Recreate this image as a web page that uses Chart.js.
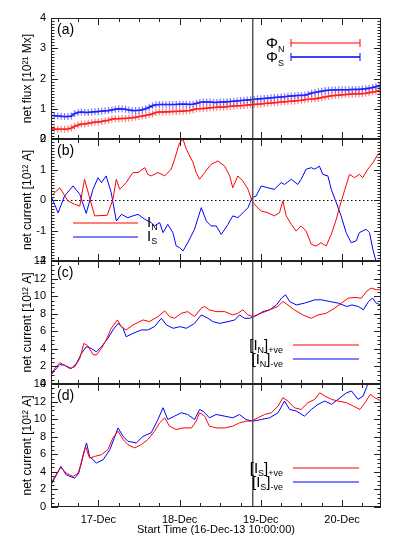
<!DOCTYPE html>
<html>
<head>
<meta charset="utf-8">
<script src="https://cdn.jsdelivr.net/npm/chart.js@4.4.0/dist/chart.umd.min.js"></script>
<style>
body { margin: 0; background: #fff; }
#wrap { position: relative; width: 399px; height: 544px; }
canvas { position: absolute; left: 0; }
</style>
</head>
<body>
<div id="wrap">
<canvas id="panelA" width="399" height="152" style="top:0px"></canvas>
<canvas id="panelB" width="399" height="147" style="top:127px"></canvas>
<canvas id="panelC" width="399" height="148" style="top:249px"></canvas>
<canvas id="panelD" width="399" height="172" style="top:372px"></canvas>
</div>
<script>
const FONT = '"Liberation Sans", Arial, Helvetica, sans-serif';

// x axis: hours since 16-Dec-13 10:00
const dayTicks = [14, 38, 62, 86];
const dayLabels = ['17-Dec', '18-Dec', '19-Dec', '20-Dec'];
const markHour = 59.6;
const xTitle = 'Start Time (16-Dec-13 10:00:00)';

// (a) net flux, hourly
const fluxN = [0.33, 0.33, 0.32, 0.32, 0.32, 0.33, 0.36, 0.42, 0.46, 0.50,
  0.50, 0.52, 0.54, 0.56, 0.56, 0.58, 0.60, 0.62, 0.66, 0.67, 0.67, 0.68, 0.68, 0.69, 0.70,
  0.72, 0.74, 0.76, 0.78, 0.80, 0.83, 0.88, 0.89, 0.89, 0.90, 0.90, 0.91, 0.91, 0.92, 0.92, 0.93, 0.94,
  0.97, 1.00, 1.00, 1.01, 1.02, 1.03, 1.04, 1.05, 1.06, 1.06, 1.07, 1.08, 1.09, 1.10, 1.10, 1.11, 1.12, 1.13, 1.14,
  1.15, 1.16, 1.17, 1.18, 1.19, 1.20, 1.21, 1.22, 1.23, 1.24, 1.25, 1.26, 1.27, 1.28, 1.30, 1.31, 1.32, 1.33, 1.35, 1.37,
  1.39, 1.41, 1.43, 1.44, 1.45, 1.46, 1.47, 1.48, 1.49, 1.49, 1.50, 1.50, 1.51, 1.53, 1.55, 1.57, 1.60];
const fluxS = [0.78, 0.77, 0.76, 0.75, 0.74, 0.74, 0.76, 0.84, 0.88, 0.89, 0.88, 0.88, 0.89,
  0.90, 0.91, 0.92, 0.93, 0.94, 0.96, 0.98, 1.00, 0.99, 0.98, 0.96, 0.94, 0.94, 0.95, 0.97, 1.00,
  1.05, 1.10, 1.13, 1.14, 1.14, 1.14, 1.14, 1.14, 1.14, 1.15, 1.15, 1.15, 1.14, 1.15, 1.18,
  1.21, 1.22, 1.22, 1.22, 1.21, 1.21, 1.22, 1.22, 1.23, 1.24, 1.25, 1.26, 1.27, 1.28, 1.29, 1.30, 1.31,
  1.32, 1.33, 1.34, 1.35, 1.36, 1.37, 1.38, 1.39, 1.40, 1.41, 1.42, 1.43, 1.44, 1.44, 1.45, 1.48, 1.52,
  1.54, 1.56, 1.58, 1.60, 1.61, 1.62, 1.62, 1.63, 1.63, 1.63, 1.63, 1.64, 1.64, 1.64, 1.65, 1.66, 1.68, 1.70, 1.73, 1.76];

// (b) net current I_N, I_S
const hoursBN = [0, 2.6, 5, 7, 8.5, 9.9, 12.9, 16.6, 18.3, 19.3, 20.3, 21.3, 22.2, 24.2, 25.7, 27.7, 28.6, 29.6, 31.6, 33.6,
  35.5, 36.5, 38, 39, 40, 41, 42, 42.9, 43.9, 45.4, 47.3, 49.3, 51.3, 52.8, 53.7, 55.2, 56.7, 58.2, 59.4, 60.6,
  62.1, 64.1, 66, 67.5, 68.5, 69.5, 71, 72.4, 73.9, 75.4, 76.9, 78.3, 79.8, 81.3, 82.8, 84.3, 85.2, 86.7, 88.2, 89.7,
  91.1, 92.1, 93.6, 95.1, 96.6, 97.5];
const currentBN = [0.13, 0.40, -0.03, -0.14, -0.20, 0.68, -0.52, -0.50, 0.02, 0.68, 0.35, 0.46, 0.57, 0.90, 0.90, 1.06, 0.84, 0.79, 0.90, 0.79,
  1.01, 1.33, 1.88, 1.99, 1.66, 1.44, 1.22, 0.90, 0.68, 0.90, 1.17, 1.28, 1.11, 0.79, 0.40, 0.79, 0.62, 0.35, -0.03, -0.20,
  -0.36, -0.42, -0.52, -0.42, -0.03, -0.52, -0.80, -1.02, -0.85, -1.02, -1.45, -1.51, -1.40, -1.51, -1.13, -0.63, -0.25, 0.30, 0.84, 0.73,
  0.84, 0.73, 1.01, 1.22, 1.50, 1.55];
const hoursBS = [0, 2.1, 4, 6.5, 8.5, 10.4, 12.4, 13.9, 14.9, 16.3, 17.8, 19.3, 20.8, 22.7, 24.2, 25.7, 27.7, 29.6, 30.6, 32.1,
  33.1, 34.5, 36, 37, 38, 39, 40.4, 42.4, 44.4, 45.9, 47.3, 48.8, 50.3, 52.3, 53.7, 55.2, 56.7, 58.2, 59.4, 60.6,
  62.1, 64.1, 66, 68, 69, 71, 72.9, 73.9, 75.4, 76.9, 77.9, 79.3, 80.3, 81.8, 82.8, 84.3, 85.7, 87.2, 88.7, 90.2,
  91.1, 93.1, 94.1, 95.1, 96, 97];
const currentBS = [0.13, -0.42, 0.13, 0.46, 0.19, -0.44, 0.35, 0.73, 0.57, 0.79, 0.24, -0.69, -0.47, -0.58, -0.52, -0.47, -0.63, -0.74, -0.85, -0.74,
  -1.07, -0.80, -1.07, -1.51, -1.56, -1.67, -1.40, -0.96, -0.25, -0.69, -0.85, -0.85, -1.13, -0.80, -0.52, -0.58, -0.42, -0.25, 0.08, 0.13,
  0.46, 0.40, 0.35, 0.57, 0.51, 0.68, 0.51, 0.68, 1.01, 1.06, 1.01, 1.11, 0.84, 0.79, 0.35, -0.09, -0.52, -1.07, -1.40, -1.34,
  -1.07, -0.96, -1.07, -1.62, -2.0, -2.27];

// (c) [I_N]+ve, [I_N]-ve
const hoursCP = [0, 1.1, 2.6, 4, 5.5, 7, 8.5, 9.7, 10.9, 12.4, 13.4, 14.9, 16.3, 17.8, 19.6, 20.8, 22.2, 24.2, 27.2, 29.1,
  31.6, 33.6, 35, 36.5, 38.5, 40.4, 42.4, 44.4, 45.4, 46.8, 48.8, 51.3, 53.7, 55.2, 56.7, 58.2, 59.6, 62.1, 64.6, 67,
  68.5, 70, 71.9, 74.4, 76.9, 78.9, 81.3, 83.8, 85.8, 87.8, 89.8, 91.7, 93.2, 94.6, 96.1, 97.5];
const currentCP = [1.0, 1.76, 2.44, 2.14, 1.76, 1.95, 2.9, 4.62, 4.35, 3.36, 3.28, 4.05, 5.0, 6.34, 7.29, 6.53, 6.15, 6.72, 7.29, 7.1,
  7.67, 8.32, 7.67, 7.48, 8.05, 8.24, 7.67, 8.63, 8.82, 8.44, 8.24, 8.24, 7.86, 8.05, 8.44, 7.86, 7.67, 8.05, 8.44, 8.82,
  9.39, 9.0, 8.44, 7.86, 7.48, 7.86, 8.05, 8.63, 9.2, 9.77, 9.85, 9.77, 10.53, 10.92, 10.73, 10.73];
const hoursCM = [0, 1.1, 2.6, 4, 6, 7.5, 9, 10.4, 11.9, 13.4, 14.9, 16.8, 18.3, 19.8, 21.3, 22.2, 24.2, 26.7, 28.6, 30.6,
  32.6, 34.1, 36.1, 38.1, 40, 42.4, 44.4, 46.4, 47.8, 49.8, 52.3, 54.3, 55.7, 57.2, 58.7, 60.1, 62.6, 64.6, 66.6, 68.1,
  69.3, 70.5, 72.5, 74.9, 77.9, 79.9, 82.4, 84.9, 87.4, 88.9, 90.8, 92.3, 93.8, 95, 96.1, 97.5];
const currentCM = [1.0, 1.56, 2.21, 2.14, 1.76, 2.33, 3.47, 4.24, 4.05, 3.66, 4.24, 5.19, 6.15, 6.9, 6.34, 5.38, 5.76, 6.15, 6.15, 6.53,
  7.48, 6.72, 6.34, 6.53, 6.34, 6.9, 7.86, 7.48, 7.1, 6.9, 7.1, 7.29, 7.86, 7.48, 7.48, 7.67, 8.24, 8.44, 9.0, 9.77,
  10.15, 9.39, 9.0, 9.2, 9.58, 9.58, 9.39, 9.2, 8.82, 9.0, 8.82, 8.44, 9.39, 9.77, 9.2, 9.0];

// (d) [I_S]+ve, [I_S]-ve
const hoursDP = [0, 1.1, 2.9, 4.5, 6.5, 8, 9, 10.2, 11.4, 12.9, 14.9, 16.8, 18.3, 19.8, 21.3, 22.7, 24.7, 26.7, 28.6, 30.6,
  32.1, 33.6, 35, 37, 39, 41.5, 42.9, 43.9, 45.4, 46.8, 48.8, 51.3, 53.7, 55.7, 57.6, 59.1, 61.1, 63.1, 65.1, 67.1,
  68.5, 70, 71.9, 73.9, 75.9, 77.9, 79.4, 80.9, 82.9, 84.8, 87.3, 89.3, 91.3, 92.8, 94.3, 95.7, 97.5];
const currentDP = [2.7, 3.47, 4.5, 3.86, 3.47, 3.86, 5.0, 6.9, 5.57, 5.76, 5.95, 6.53, 7.86, 8.63, 7.67, 7.1, 6.72, 7.1, 7.67, 8.63,
  9.58, 10.15, 9.2, 8.82, 9.0, 9.0, 9.77, 10.73, 10.34, 9.2, 9.0, 9.0, 9.2, 9.58, 9.77, 9.77, 10.15, 10.53, 10.73, 11.49,
  12.44, 12.06, 11.3, 11.1, 11.87, 12.25, 13.0, 12.63, 12.25, 12.06, 11.87, 11.49, 11.1, 11.87, 12.82, 12.44, 12.06];
const hoursDM = [0, 1.1, 2.9, 4.5, 7, 8.2, 9.5, 10.5, 11.4, 13.4, 15.4, 17.4, 18.9, 19.8, 21.3, 22.7, 25.2, 27.2, 29.6, 31.6,
  33.1, 34.5, 36.5, 38.5, 40.4, 42.4, 43.9, 44.9, 46.8, 48.8, 51.3, 53.7, 55.7, 57.6, 59.6, 62.1, 64.6, 67.1, 69, 70.5,
  72.5, 74.9, 76.9, 78.9, 80.9, 82.9, 84.8, 87.3, 88.8, 90.7, 92.2, 93.2, 94.1, 95.1];
const currentDM = [2.52, 3.28, 4.62, 3.66, 3.28, 3.86, 5.95, 7.29, 5.76, 5.0, 5.38, 6.53, 8.05, 9.0, 8.05, 7.48, 7.29, 8.05, 8.44, 9.96,
  11.3, 9.96, 10.34, 10.73, 10.53, 9.96, 11.1, 10.92, 10.15, 10.53, 10.34, 10.15, 10.53, 9.96, 9.77, 9.96, 10.15, 10.73, 12.06, 11.1,
  10.92, 10.34, 11.1, 11.68, 12.06, 11.68, 12.25, 13.0, 13.2, 12.25, 12.63, 13.59, 14.5, 15.1];

const RED = '#ff0000';
const BLUE = '#0000ff';

const toPoints = (xs, ys) => ys.map((v, i) => ({x: xs[i], y: v}));
const hourly = arr => arr.map((_, i) => i);

const lineSet = (xs, ys, color) => ({
  data: toPoints(xs, ys),
  borderColor: color,
  borderWidth: 1,
  pointRadius: 0,
  tension: 0
});

const fluxSet = (ys, color, light) => ({
  data: toPoints(hourly(ys), ys),
  borderColor: color,
  borderWidth: 1.5,
  pointStyle: 'cross',
  pointRadius: 3.5,
  pointBorderColor: light,
  pointBorderWidth: 1.2,
  tension: 0
});

// text with subscripts: parts = [text, size, dy]
const richText = (ctx, parts, x, y, align) => {
  let w = 0;
  parts.forEach(p => { ctx.font = p[1] + 'px ' + FONT; w += ctx.measureText(p[0]).width; });
  let cx = align === 'right' ? x - w : x;
  ctx.textAlign = 'left';
  ctx.textBaseline = 'alphabetic';
  parts.forEach(p => {
    ctx.font = p[1] + 'px ' + FONT;
    ctx.fillText(p[0], cx, y + (p[2] || 0));
    cx += ctx.measureText(p[0]).width;
  });
};

const hline = (ctx, x1, x2, y) => {
  ctx.beginPath(); ctx.moveTo(x1, y); ctx.lineTo(x2, y); ctx.stroke();
};

const frame = {
  id: 'frame',
  beforeDatasetsDraw(chart, args, o) {
    const {ctx, chartArea: {left, right}, scales: {y}} = chart;
    if (!o.zeroLine) return;
    ctx.save();
    ctx.strokeStyle = '#000';
    ctx.lineWidth = 1;
    ctx.setLineDash([1.5, 2.5]);
    hline(ctx, left, right, Math.round(y.getPixelForValue(0)) + 0.5);
    ctx.restore();
  },
  afterDatasetsDraw(chart, args, o) {
    const {ctx, chartArea: {left, right, top, bottom}, scales: {x, y}} = chart;
    ctx.save();
    // time marker
    const mx = x.getPixelForValue(markHour);
    ctx.strokeStyle = '#555';
    ctx.lineWidth = 1.5;
    ctx.beginPath(); ctx.moveTo(mx, top); ctx.lineTo(mx, bottom); ctx.stroke();

    // box
    ctx.strokeStyle = '#222';
    ctx.lineWidth = 1;
    ctx.strokeRect(left + 0.5, top + 0.5, right - left - 1, bottom - top - 1);

    // x ticks every 6 h, inward on top and bottom
    ctx.beginPath();
    for (let h = 2; h <= x.max; h += 6) {
      const px = Math.round(x.getPixelForValue(h)) + 0.5;
      const len = dayTicks.includes(h) ? 7 : 4;
      ctx.moveTo(px, bottom); ctx.lineTo(px, bottom - len);
      ctx.moveTo(px, top); ctx.lineTo(px, top + len);
    }
    // y ticks, left and right
    const n = Math.round((y.max - y.min) / o.minor);
    for (let i = 0; i <= n; i++) {
      const v = y.min + i * o.minor;
      const py = Math.round(y.getPixelForValue(v)) + 0.5;
      const major = Math.abs(v / o.major - Math.round(v / o.major)) < 1e-6;
      const len = major ? 7 : 3.5;
      ctx.moveTo(left, py); ctx.lineTo(left + len, py);
      ctx.moveTo(right, py); ctx.lineTo(right - len, py);
    }
    ctx.stroke();

    // panel tag
    ctx.fillStyle = '#000';
    ctx.font = '14px ' + FONT;
    ctx.textAlign = 'left';
    ctx.textBaseline = 'alphabetic';
    ctx.fillText(o.tag, left + 6, top + 16);

    // legend
    o.legend.forEach(item => {
      const ly = top + item.dy;
      ctx.strokeStyle = item.color;
      ctx.lineWidth = item.width || 1;
      hline(ctx, left + item.x1, left + item.x2, ly);
      if (item.cross) {
        ctx.lineWidth = 1;
        [item.x1, item.x2].forEach(cx => {
          ctx.beginPath();
          ctx.moveTo(left + cx, ly - 4); ctx.lineTo(left + cx, ly + 4);
          ctx.stroke();
        });
      }
      ctx.fillStyle = '#000';
      richText(ctx, item.text, left + item.tx, ly + item.ty, item.align);
    });
    ctx.restore();
  }
};

const makePanel = (canvasName, cfg) => {
  const ctx = document.getElementById(canvasName);
  const showX = !!cfg.showX;
  return new Chart(ctx, {
    type: 'line',
    data: {datasets: cfg.datasets},
    options: {
      responsive: false,
      animation: false,
      devicePixelRatio: 1,
      layout: {padding: {top: cfg.padTop, bottom: cfg.padBottom, left: 0, right: 18}},
      plugins: {
        legend: {display: false},
        tooltip: {enabled: false},
        frame: cfg.frame
      },
      scales: {
        x: {
          type: 'linear',
          min: 0,
          max: 97.5,
          display: showX,
          grid: {display: false, drawTicks: false},
          border: {display: false},
          afterBuildTicks: s => { s.ticks = dayTicks.map(v => ({value: v})); },
          afterFit: s => { s.height = showX ? 30 : 0; },
          ticks: {
            callback: v => dayLabels[dayTicks.indexOf(v)],
            font: {family: FONT, size: 11},
            color: '#000',
            padding: 6,
            maxRotation: 0,
            autoSkip: false
          },
          title: {
            display: showX,
            text: xTitle,
            font: {family: FONT, size: 11},
            color: '#000',
            padding: {top: 0, bottom: 0}
          }
        },
        y: {
          min: cfg.yMin,
          max: cfg.yMax,
          afterFit: s => { s.width = 51; },
          grid: {display: false, drawTicks: false},
          border: {display: false},
          ticks: {
            stepSize: cfg.frame.major,
            font: {family: FONT, size: 11},
            color: '#000',
            padding: 5
          },
          title: {
            display: true,
            text: cfg.yTitle,
            font: {family: FONT, size: 12},
            color: '#000',
            padding: {top: 20, bottom: 0}
          }
        }
      }
    },
    plugins: [frame]
  });
};

const posLegend = (sym) => [
  {dy: 84, x1: 242, x2: 308, color: RED, tx: 232, ty: 5, align: 'right',
    text: [['[', 15], ['I', 15], [sym, 9, 3], [']', 15], ['+ve', 9, 3]]},
  {dy: 98, x1: 242, x2: 308, color: BLUE, tx: 232, ty: 5, align: 'right',
    text: [['[', 15], ['I', 15], [sym, 9, 3], [']', 15], ['-ve', 9, 3]]}
];

makePanel('panelA', {
  padTop: 18, padBottom: 13, yMin: 0, yMax: 4,
  yTitle: 'net flux [10²¹ Mx]',
  datasets: [
    fluxSet(fluxN, RED, 'rgba(255,40,40,0.6)'),
    fluxSet(fluxS, BLUE, 'rgba(40,40,255,0.6)')
  ],
  frame: {tag: '(a)', major: 1, minor: 0.1, legend: [
    {dy: 25, x1: 240, x2: 309, color: RED, cross: true, tx: 215, ty: 5, text: [['Φ', 15], ['N', 9, 4]]},
    {dy: 39, x1: 240, x2: 309, color: BLUE, width: 1.5, cross: true, tx: 215, ty: 5, text: [['Φ', 15], ['S', 9, 4]]}
  ]}
});

makePanel('panelB', {
  padTop: 12, padBottom: 13, yMin: -2, yMax: 2,
  yTitle: 'net current [10¹² A]',
  datasets: [
    lineSet(hoursBN, currentBN, RED),
    lineSet(hoursBS, currentBS, BLUE)
  ],
  frame: {tag: '(b)', major: 1, minor: 0.1, zeroLine: true, legend: [
    {dy: 84, x1: 22, x2: 87, color: RED, tx: 96, ty: 4, text: [['I', 15], ['N', 9, 3]]},
    {dy: 98, x1: 22, x2: 87, color: BLUE, tx: 96, ty: 4, text: [['I', 15], ['S', 9, 3]]}
  ]}
});

makePanel('panelC', {
  padTop: 12, padBottom: 13, yMin: 0, yMax: 14,
  yTitle: 'net current [10¹² A]',
  datasets: [
    lineSet(hoursCP, currentCP, RED),
    lineSet(hoursCM, currentCM, BLUE)
  ],
  frame: {tag: '(c)', major: 2, minor: 0.5, legend: posLegend('N')}
});

makePanel('panelD', {
  padTop: 12, padBottom: 7, yMin: 0, yMax: 14, showX: true,
  yTitle: 'net current [10¹² A]',
  datasets: [
    lineSet(hoursDP, currentDP, RED),
    lineSet(hoursDM, currentDM, BLUE)
  ],
  frame: {tag: '(d)', major: 2, minor: 0.5, legend: posLegend('S')}
});
</script>
</body>
</html>
